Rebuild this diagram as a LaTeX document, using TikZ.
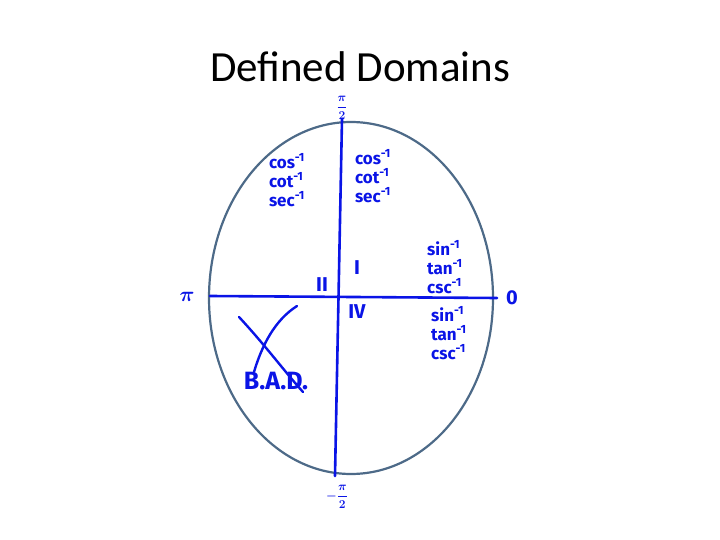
\documentclass[tikz,border=0pt]{standalone}
\usepackage{fontspec}
\setmainfont{Carlito}
\newfontfamily\handfont{Fira Sans}
\usepackage{tikz}
\usetikzlibrary{shapes.geometric, positioning, calc}
\usepackage{xcolor}
\definecolor{ink}{HTML}{0A14E6}
\definecolor{slate}{HTML}{4D6A88}
\newcommand{\inv}{\textsuperscript{-1}}

\begin{document}
\begin{tikzpicture}[
    x=1pt, y=-1pt,
    rim/.style={ellipse, draw=slate, line width=2.2pt, minimum width=284pt, minimum height=352pt, inner sep=0pt},
    axis/.style={draw=ink, line width=2.6pt, line cap=round},
    hand/.style={font=\handfont\bfseries\fontsize{17}{19}\selectfont, text=ink, align=left, inner sep=1pt},
    big/.style={font=\handfont\bfseries\boldmath\fontsize{20}{20}\selectfont, text=ink, inner sep=1pt},
    frac/.style={big, font=\handfont\bfseries\boldmath\fontsize{13}{13}\selectfont, inner sep=0pt},
    stroke/.style={draw=ink, line width=2.4pt, line cap=round},
]
\useasboundingbox (0,0) rectangle (720,540);

% Title
\node[font=\fontsize{43}{43}\selectfont, anchor=base, inner sep=0pt] (title) at (360,82) {Defined Domains};

% Unit circle
\node[rim] (unit) at (351,298) {};

% Axes
\coordinate (top) at (342,119);
\coordinate (bot) at (335,476);
\coordinate (lft) at (210,296);
\coordinate (rgt) at (497,298);
\draw[axis] (top) -- (bot);
\draw[axis] (lft) -- (rgt);

% Axis end labels
\node[frac] (halfpi) at (342,108) {$\displaystyle\frac{\pi}{2}$};
\node[frac] (neghalfpi) at (337,497) {$\displaystyle{-}\frac{\pi}{2}$};
\node[big] (pi) at (187,297) {$\pi$};
\node[big] (zero) at (512,298) {0};

% Quadrants
\node[big] (qone) at (357,268) {I};
\node[big] (qtwo) at (322,285) {II};
\node[big] (qfour) at (357,312) {IV};

% Inverse functions
\node[hand] (leftlist) at (287,180) {cos\inv\\cot\inv\\sec\inv};
\node[hand] (rightlist) at (373,176) {cos\inv\\cot\inv\\sec\inv};
\node[hand] (sinup) at (445,267) {sin\inv\\tan\inv\\csc\inv};
\node[hand] (sindown) at (449,333) {sin\inv\\tan\inv\\csc\inv};

% Crossed out quadrant
\node[big, font=\handfont\bfseries\fontsize{25}{25}\selectfont] (bad) at (276,381) {B.A.D.};
\coordinate (xa) at (239,317);
\coordinate (xb) at (303,392);
\coordinate (xc) at (297,306);
\coordinate (xd) at (254,372);
\draw[stroke] (xa) .. controls (265,345) and (285,372) .. (xb);
\draw[stroke] (xc) .. controls (275,320) and (262,345) .. (xd);

\end{tikzpicture}
\end{document}
